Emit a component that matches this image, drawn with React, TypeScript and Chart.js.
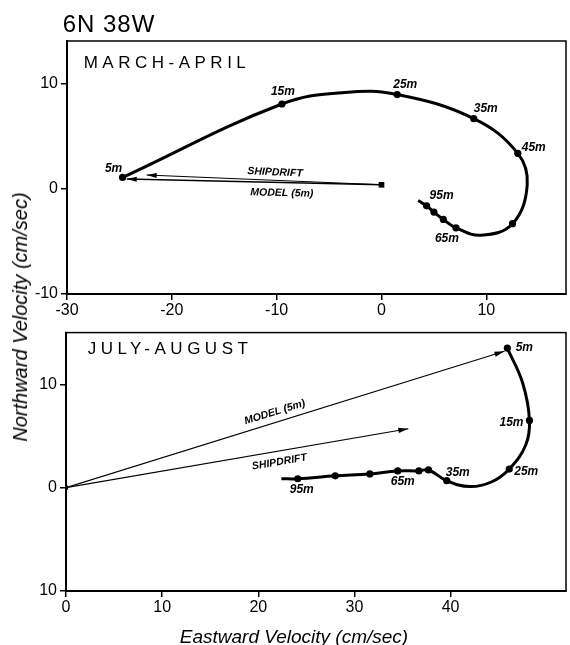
import React, { useEffect, useRef } from "react";
import { Chart, registerables } from "chart.js";

Chart.register(...registerables);

// ---------------- DATA ----------------
// March-April hodograph (eastward, northward velocity in cm/sec); depth = null for shape points
const maX = [-24.7, -9.5, -3.5, 1.5, 8.8, 13.0, 13.9, 12.5, 9.5, 7.1, 5.9, 5.0, 4.3, 3.5];
const maY = [1.1, 8.1, 9.2, 9.0, 6.7, 3.4, 0.4, -3.3, -4.4, -3.7, -2.9, -2.2, -1.6, -1.1];
const maDepth = [5, 15, null, 25, 35, 45, null, 55, null, 65, 75, 85, 95, null];
const maLabeled = [5, 15, 25, 35, 45, 65, 95];

// July-August hodograph
const jaX = [45.9, 47.5, 48.2, 47.8, 46.1, 44.3, 42.0, 39.6, 37.7, 36.7, 34.5, 31.6, 28.0, 24.1, 22.4];
const jaY = [13.5, 10.1, 6.5, 4.1, 1.8, 0.57, 0.1, 0.67, 1.71, 1.62, 1.62, 1.33, 1.14, 0.86, 0.86];
const jaDepth = [5, null, 15, null, 25, null, null, 35, 45, 55, 65, 75, 85, 95, null];
const jaLabeled = [5, 15, 25, 35, 65, 95];

// Vectors (origin and tips)
const maOrigin = [0, 0.4];
const maShipdriftTip = [-22.4, 1.33];
const maModelTip = [-24.3, 0.95];
const jaOrigin = [0, 0];
const jaShipdriftTip = [35.6, 5.7];
const jaModelTip = [45.6, 13.2];

// Ticks
const maXTicks = [-30, -20, -10, 0, 10];
const maYTicks = [-10, 0, 10];
const maYTickLabels = ["-10", "0", "10"];
const jaXTicks = [0, 10, 20, 30, 40];
const jaYTicks = [-10, 0, 10];
const jaYTickLabels = ["10", "0", "10"];

// ---------------- STYLE ----------------
const FONT = '"Liberation Sans", Arial, sans-serif';
const maLabelOffsets: Record<number, number[]> = {
  5: [-9, -9], 15: [1, -12], 25: [8, -10], 35: [12, -10], 45: [16, -6], 95: [15, -10], 65: [-9, 11],
};
const jaLabelOffsets: Record<number, number[]> = {
  5: [17, 0], 15: [-18, 2], 25: [17, 3], 35: [11, -8], 65: [5, 11], 95: [4, 11],
};

function makeConfig(p: any) {
  const pathData = p.xs.map((x: number, i: number) => ({ x, y: p.ys[i] }));
  const radii = p.depths.map((d: any) => (d == null ? 0 : 3.6));
  const toPx = (chart: any, v: number[]) => ({
    x: chart.scales.x.getPixelForValue(v[0]),
    y: chart.scales.y.getPixelForValue(v[1]),
  });

  const overlay = {
    id: "overlay",
    afterDatasetsDraw(chart: any) {
      const { ctx, chartArea: a } = chart;
      ctx.save();
      // box
      ctx.strokeStyle = "#000";
      ctx.lineWidth = 1.5;
      ctx.strokeRect(a.left, a.top, a.right - a.left, a.bottom - a.top);
      // arrow heads
      const o = toPx(chart, p.origin);
      [p.shipTip, p.modelTip].forEach((tip: number[]) => {
        const e = toPx(chart, tip);
        const ang = Math.atan2(e.y - o.y, e.x - o.x);
        const L = 10, W = 2.6;
        ctx.beginPath();
        ctx.moveTo(e.x, e.y);
        ctx.lineTo(e.x - L * Math.cos(ang) - W * Math.sin(ang), e.y - L * Math.sin(ang) + W * Math.cos(ang));
        ctx.lineTo(e.x - L * Math.cos(ang) + W * Math.sin(ang), e.y - L * Math.sin(ang) - W * Math.cos(ang));
        ctx.closePath();
        ctx.fillStyle = "#000";
        ctx.fill();
      });
      // arrow labels
      ctx.font = `italic bold 10.5px ${FONT}`;
      ctx.textAlign = "center";
      ctx.textBaseline = "middle";
      p.arrowLabels.forEach((l: any) => {
        const e = toPx(chart, l.kind === "ship" ? p.shipTip : p.modelTip);
        const mx = o.x + l.t * (e.x - o.x);
        const my = o.y + l.t * (e.y - o.y);
        let ang = Math.atan2(e.y - o.y, e.x - o.x);
        if (ang > Math.PI / 2) ang -= Math.PI;
        if (ang < -Math.PI / 2) ang += Math.PI;
        ctx.save();
        ctx.translate(mx, my);
        ctx.rotate(ang);
        ctx.fillText(l.text, 0, l.off);
        ctx.restore();
      });
      // depth labels
      ctx.font = `italic bold 12px ${FONT}`;
      p.labeled.forEach((d: number) => {
        const i = p.depths.indexOf(d);
        const q = toPx(chart, [p.xs[i], p.ys[i]]);
        const off = p.labelOffsets[d] || [0, 0];
        ctx.fillText(`${d}m`, q.x + off[0], q.y + off[1]);
      });
      ctx.restore();
    },
  };

  const axisCommon = {
    type: "linear",
    grid: { drawOnChartArea: false, drawTicks: true, tickLength: 6, color: "#000", lineWidth: 1.5 },
    border: { display: true, color: "#000", width: 2 },
  };

  return {
    type: "scatter",
    data: {
      datasets: [
        {
          data: pathData,
          showLine: true,
          borderColor: "#000",
          borderWidth: 3,
          tension: 0.4,
          pointRadius: radii,
          pointBackgroundColor: "#000",
          pointBorderWidth: 0,
        },
        {
          data: [
            { x: p.origin[0], y: p.origin[1] },
            { x: p.modelTip[0], y: p.modelTip[1] },
          ],
          showLine: true,
          borderColor: "#000",
          borderWidth: p.modelWidth,
          pointRadius: 0,
        },
        {
          data: [
            { x: p.origin[0], y: p.origin[1] },
            { x: p.shipTip[0], y: p.shipTip[1] },
          ],
          showLine: true,
          borderColor: "#000",
          borderWidth: 1.1,
          pointRadius: 0,
        },
        {
          data: [{ x: p.origin[0], y: p.origin[1] }],
          pointStyle: "rect",
          pointRadius: p.originSize,
          pointBackgroundColor: "#000",
          pointBorderWidth: 0,
        },
      ],
    },
    options: {
      responsive: false,
      animation: false,
      events: [],
      layout: { padding: { top: p.padTop, right: 3, left: 0, bottom: 0 } },
      plugins: { legend: { display: false }, tooltip: { enabled: false } },
      scales: {
        x: {
          ...axisCommon,
          min: p.xMin,
          max: p.xMax,
          afterFit: (s: any) => { s.height = p.xAxisHeight; },
          afterBuildTicks: (s: any) => { s.ticks = p.xTicks.map((v: number) => ({ value: v })); },
          ticks: {
            font: { family: FONT, size: 16 },
            color: "#000",
            padding: 1,
            maxRotation: 0,
            autoSkip: false,
            callback: (v: any) => String(v),
          },
        },
        y: {
          ...axisCommon,
          min: p.yMin,
          max: p.yMax,
          afterFit: (s: any) => { s.width = p.yAxisWidth; },
          afterBuildTicks: (s: any) => { s.ticks = p.yTicks.map((v: number) => ({ value: v })); },
          ticks: {
            font: { family: FONT, size: 16 },
            color: "#000",
            padding: 3,
            autoSkip: false,
            callback: (v: any, i: number) => p.yTickLabels[i],
          },
        },
      },
    },
    plugins: [overlay],
  };
}

const topConfig = () =>
  makeConfig({
    xs: maX, ys: maY, depths: maDepth, labeled: maLabeled, labelOffsets: maLabelOffsets,
    origin: maOrigin, shipTip: maShipdriftTip, modelTip: maModelTip,
    xMin: -30, xMax: 17.6, yMin: -10, yMax: 14.1,
    xTicks: maXTicks, yTicks: maYTicks, yTickLabels: maYTickLabels,
    padTop: 41, xAxisHeight: 26, yAxisWidth: 67, originSize: 4, modelWidth: 1.6,
    arrowLabels: [
      { text: "SHIPDRIFT", kind: "ship", t: 0.455, off: -8 },
      { text: "MODEL (5m)", kind: "model", t: 0.39, off: 10.5 },
    ],
  });

const bottomConfig = () =>
  makeConfig({
    xs: jaX, ys: jaY, depths: jaDepth, labeled: jaLabeled, labelOffsets: jaLabelOffsets,
    origin: jaOrigin, shipTip: jaShipdriftTip, modelTip: jaModelTip,
    xMin: 0, xMax: 52, yMin: -10, yMax: 15,
    xTicks: jaXTicks, yTicks: jaYTicks, yTickLabels: jaYTickLabels,
    padTop: 8, xAxisHeight: 54, yAxisWidth: 66, originSize: 3, modelWidth: 1.1,
    arrowLabels: [
      { text: "MODEL (5m)", kind: "model", t: 0.483, off: -10 },
      { text: "SHIPDRIFT", kind: "ship", t: 0.618, off: 11 },
    ],
  });

function Panel({ top, height, config }: { top: number; height: number; config: () => any }) {
  const ref = useRef<HTMLCanvasElement | null>(null);
  useEffect(() => {
    const c = new Chart(ref.current as HTMLCanvasElement, config() as any);
    return () => c.destroy();
  }, []);
  return (
    <canvas
      ref={ref}
      width={570}
      height={height}
      style={{ position: "absolute", left: 0, top, width: 570, height }}
    />
  );
}

function Txt({ x, y, size, text, style, rotate }: any) {
  return (
    <div
      style={{
        position: "absolute",
        left: x,
        top: y,
        transform: `translate(-50%,-50%)${rotate ? ` rotate(${rotate}deg)` : ""}`,
        fontSize: size,
        lineHeight: 1,
        whiteSpace: "nowrap",
        fontFamily: FONT,
        color: "#000",
        ...style,
      }}
    >
      {text}
    </div>
  );
}

export default function App() {
  return (
    <div style={{ position: "absolute", left: 0, top: 0, width: 570, height: 645, background: "#fff", overflow: "hidden" }}>
      <Panel top={0} height={320} config={topConfig} />
      <Panel top={320} height={325} config={bottomConfig} />
      <Txt x={109} y={23.5} size={24} text="6N 38W" style={{ letterSpacing: 1 }} />
      <Txt x={167} y={61.5} size={17} text="MARCH-APRIL" style={{ letterSpacing: 4.5 }} />
      <Txt x={170} y={348} size={17} text="JULY-AUGUST" style={{ letterSpacing: 4.5 }} />
      <Txt x={20} y={317} size={20} text="Northward Velocity (cm/sec)" rotate={-90} style={{ fontStyle: "italic" }} />
      <Txt x={294} y={636} size={19} text="Eastward Velocity (cm/sec)" style={{ fontStyle: "italic" }} />
    </div>
  );
}
